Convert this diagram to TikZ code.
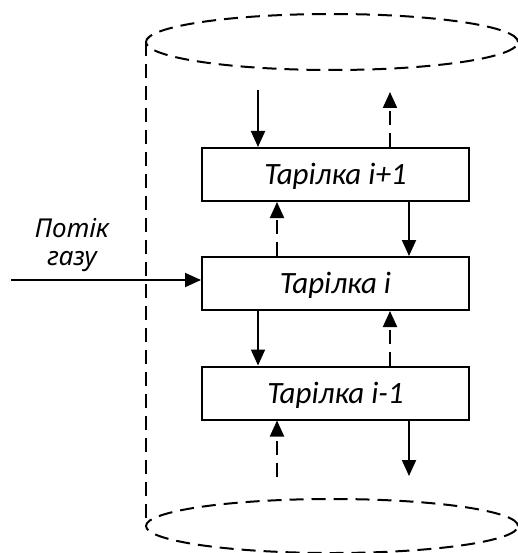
\documentclass[tikz,border=0pt]{standalone}
\usepackage{fontspec}
\setmainfont{Carlito}
\newfontfamily\gasfont{Noto Sans}
\usetikzlibrary{arrows.meta}

\begin{document}
\begin{tikzpicture}[x=1pt,y=-1pt,
  tray/.style={draw, line width=2pt, minimum width=267pt, minimum height=53pt,
    inner sep=0pt, font=\fontsize{31}{36}\selectfont\itshape,
    text height=20pt, text depth=0pt},
  liquid/.style={line width=2pt, -{Triangle[length=16pt,width=14pt]}},
  vapour/.style={liquid, dash pattern=on 14pt off 8pt},
  shell/.style={line width=2pt, dash pattern=on 14pt off 8pt},
  gaslabel/.style={inner sep=0pt, anchor=base, font=\gasfont\fontsize{26}{30}\selectfont\itshape}]

  \clip (0,0) rectangle (518,553);

  % column shell
  \draw[shell] (332,42) ellipse [x radius=186pt, y radius=28pt];
  \draw[shell] (332,526) ellipse [x radius=186pt, y radius=27pt];
  \coordinate (shellTop) at (146,42);
  \coordinate (shellBot) at (146,526);
  \draw[shell] (shellTop) -- (shellBot);

  % trays
  \node[tray] (up)  at (335.5,174.5) {Тарілка і+1};
  \node[tray] (mid) at (335.5,283.5) {Тарілка і};
  \node[tray] (low) at (335.5,393)   {Тарілка і-1};

  % free ends of the streams
  \coordinate (liqIn)   at (258,90);
  \coordinate (vapOut)  at (390,92);
  \coordinate (vapIn)   at (277,477);
  \coordinate (liqOut)  at (409,476);
  \coordinate (gasIn)   at (11,280);

  % liquid flows down, vapour flows up
  \draw[liquid] (liqIn) -- (liqIn |- up.north);
  \draw[vapour] (vapOut |- up.north) -- (vapOut);

  \draw[liquid] (409,0 |- up.south) -- (409,0 |- mid.north);
  \draw[vapour] (277,0 |- mid.north) -- (277,0 |- up.south);

  \draw[liquid] (258,0 |- mid.south) -- (258,0 |- low.north);
  \draw[vapour] (390,0 |- low.north) -- (390,0 |- mid.south);

  \draw[liquid] (liqOut |- low.south) -- (liqOut);
  \draw[vapour] (vapIn) -- (vapIn |- low.south);

  % gas feed
  \draw[liquid] (gasIn) -- (gasIn -| mid.west);
  \node[gaslabel] (gasA) at (72,237) {Потік};
  \node[gaslabel] (gasB) at (72,265) {газу};
\end{tikzpicture}
\end{document}
